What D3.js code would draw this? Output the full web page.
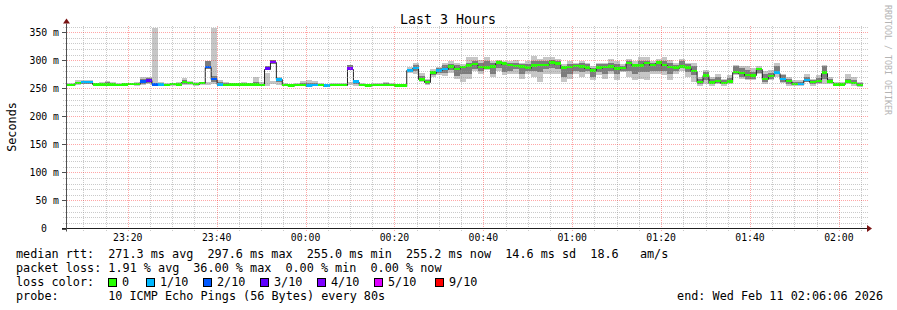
<!DOCTYPE html>
<html>
<head>
<meta charset="utf-8">
<script src="https://cdn.jsdelivr.net/npm/d3@7"></script>
<style>
  body { margin: 0; background: #fff; }
  text { font-family: "DejaVu Sans Mono", monospace; white-space: pre; }
</style>
</head>
<body>
<svg id="chart" width="897" height="310"></svg>
<script>
// one sample every 80s, first one starts 40s before the left edge
const firstSample = Date.UTC(2026, 1, 10, 23, 5, 26);
const stepSec = 80;
const viewStart = Date.UTC(2026, 1, 10, 23, 6, 6);
const viewEnd = Date.UTC(2026, 1, 11, 2, 6, 6);

const median = [
  256,256,259,261,261,257,257,257,257,256,
  257,258,258,262,264,257,257,256,258,257,
  261,259,258,259,288,267,257,256,257,257,
  257,257,257,256,285,297,266,256,255,256,
  256,255,256,256,255,256,256,256,285,262,
  256,255,256,256,256,256,255,255,282,286,
  266,261,278,282,284,289,284,288,291,293,
  288,287,289,296,294,292,290,289,287,291,
  292,292,296,294,287,288,290,289,287,282,
  287,288,289,285,286,295,291,291,295,292,
  296,292,288,287,289,287,281,261,273,260,
  263,259,262,279,277,274,273,284,267,272,
  278,267,263,258,258,265,261,263,278,262,
  257,257,262,259,256
];
// lost pings out of 10
const loss = [
  0,0,0,1,1,0,0,0,0,0,
  0,0,0,2,3,2,1,0,0,0,
  0,0,0,0,2,2,1,0,0,0,
  0,0,0,0,3,4,1,0,0,0,
  0,1,1,0,1,0,0,0,4,1,
  0,0,0,0,0,0,0,0,1,1,
  0,0,0,1,1,0,0,0,0,0,
  0,0,0,0,0,0,0,0,0,0,
  0,0,0,0,0,0,0,0,0,0,
  0,0,0,0,0,0,0,0,0,0,
  0,0,0,0,0,0,0,0,0,0,
  0,0,0,0,0,0,0,0,0,0,
  1,1,0,0,1,1,0,0,0,0,
  0,0,0,0,0
];
// outer (light) smoke band
const smokeLo = [
  254,254,256,257,257,255,255,255,255,254,
  255,256,255,256,258,255,255,254,255,255,
  256,256,255,256,256,257,255,254,255,255,
  255,255,255,254,254,258,256,254,253,254,
  254,253,254,254,253,254,254,254,256,255,
  254,253,254,254,254,254,253,253,278,276,
  262,256,270,274,272,278,266,262,267,281,
  276,282,270,281,273,276,276,267,276,270,
  261,276,276,276,261,267,276,270,276,264,
  273,267,276,264,279,270,264,267,264,276,
  276,273,264,276,281,270,261,255,258,255,
  258,255,257,273,267,264,265,276,258,264,
  270,259,255,255,255,261,255,258,258,257,
  254,254,257,255,253
];
const smokeHi = [
  259,260,264,265,264,260,262,263,261,259,
  260,260,261,270,271,357,261,259,260,262,
  268,263,261,262,261,357,264,262,260,260,
  261,260,271,262,278,263,270,259,258,259,
  263,264,263,259,258,259,259,259,262,265,
  259,258,260,259,261,260,258,258,288,296,
  277,266,284,288,296,298,296,294,305,305,
  300,305,299,300,299,299,300,296,299,308,
  302,305,305,302,293,298,296,299,296,290,
  296,296,302,299,293,302,299,306,305,299,
  302,305,300,296,303,296,295,270,283,270,
  276,267,273,292,290,289,287,289,280,282,
  295,276,270,264,264,276,267,273,292,270,
  262,262,276,270,261
];
// inner (dark) smoke band
const coreLo = [
  255,255,257,258,258,256,256,256,256,255,
  256,257,256,258,260,256,256,255,256,256,
  258,257,256,257,284,262,256,255,256,256,
  256,256,256,255,282,293,262,255,254,255,
  255,254,255,255,254,255,255,255,282,258,
  255,254,255,255,255,255,254,254,280,280,
  264,258,273,277,277,282,272,276,276,284,
  281,285,276,287,279,281,284,276,281,281,
  279,284,287,284,270,276,281,279,281,270,
  279,276,281,276,281,281,276,279,279,281,
  281,281,276,281,286,279,273,258,264,258,
  259,257,259,276,271,267,267,277,261,267,
  276,262,258,256,256,262,257,260,267,259,
  255,255,259,257,254
];
const coreHi = [
  258,258,262,263,263,259,260,261,259,258,
  259,259,260,266,268,259,259,258,259,260,
  265,261,260,261,298,272,261,259,259,259,
  259,259,262,258,290,301,268,258,257,258,
  259,260,259,258,257,258,258,258,292,264,
  258,257,258,258,259,258,257,257,285,292,
  272,264,281,286,292,294,291,290,296,299,
  295,299,295,298,296,296,295,293,293,299,
  298,299,300,299,290,293,293,295,293,287,
  293,293,296,293,290,299,293,299,299,295,
  298,298,295,292,298,293,290,267,279,267,
  270,264,268,289,286,282,279,286,276,277,
  290,273,267,262,262,271,264,268,290,267,
  260,260,267,264,259
];

const lossSteps = [0, 1, 2, 3, 4, 5, 9];
const lossLabels = ["0", "1/10", "2/10", "3/10", "4/10", "5/10", "9/10"];
const lossColors = ["#26ff00", "#00b8ff", "#0059ff", "#5e00ff", "#7e00ff", "#dd00ff", "#ff0000"];

const yMajorTicks = [0, 50, 100, 150, 200, 250, 300, 350];

const statsLine = "median rtt:  271.3 ms avg  297.6 ms max  255.0 ms min  255.2 ms now  14.6 ms sd  18.6   am/s";
const lossLine = "packet loss: 1.91 % avg  36.00 % max  0.00 % min  0.00 % now";
const probeLine = "probe:       10 ICMP Echo Pings (56 Bytes) every 80s";
const endLine = "end: Wed Feb 11 02:06:06 2026";

const plotL = 66, plotR = 866, plotT = 25.5, plotB = 228.5;

const svg = d3.select("#chart");

const x = d3.scaleUtc().domain([viewStart, viewEnd]).range([plotL, plotR]);
const y = d3.scaleLinear().domain([0, 362]).range([plotB, plotT]);

const samples = median.map((m, i) => ({
  t0: new Date(firstSample + i * stepSec * 1000),
  t1: new Date(firstSample + (i + 1) * stepSec * 1000),
  m,
  loss: loss[i],
  sLo: smokeLo[i], sHi: smokeHi[i],
  cLo: coreLo[i], cHi: coreHi[i]
}));

svg.append("clipPath").attr("id", "canvas")
  .append("rect").attr("x", plotL).attr("y", plotT).attr("width", plotR - plotL).attr("height", plotB - plotT);

const g = svg.append("g").attr("clip-path", "url(#canvas)");

// smoke
g.selectAll("rect.smoke").data(samples).join("rect")
  .attr("class", "smoke")
  .attr("x", d => x(d.t0)).attr("width", d => x(d.t1) - x(d.t0))
  .attr("y", d => y(d.sHi)).attr("height", d => y(d.sLo) - y(d.sHi))
  .attr("fill", "#c6c6c6").attr("shape-rendering", "crispEdges");

g.selectAll("rect.core").data(samples).join("rect")
  .attr("class", "core")
  .attr("x", d => x(d.t0)).attr("width", d => x(d.t1) - x(d.t0))
  .attr("y", d => y(d.cHi)).attr("height", d => y(d.cLo) - y(d.cHi))
  .attr("fill", "#7c7c7c").attr("shape-rendering", "crispEdges");

// median line
const linePts = samples.map(d => [d.t0, d.m]);
linePts.push([samples[samples.length - 1].t1, samples[samples.length - 1].m]);
g.append("path")
  .attr("d", d3.line().x(d => x(d[0])).y(d => Math.round(y(d[1])) + 0.5).curve(d3.curveStepAfter)(linePts))
  .attr("fill", "none").attr("stroke", "#202020").attr("stroke-width", 1);

// loss coloured median bars
g.selectAll("rect.med").data(samples).join("rect")
  .attr("class", "med")
  .attr("x", d => x(d.t0)).attr("width", d => x(d.t1) - x(d.t0))
  .attr("y", d => y(d.m + 2.2)).attr("height", d => y(d.m - 2.2) - y(d.m + 2.2))
  .attr("fill", d => lossColors[lossSteps.indexOf(d.loss)])
  .attr("shape-rendering", "crispEdges");

// grid on top, as rrdtool does
const grid = svg.append("g").attr("shape-rendering", "crispEdges");
const minorY = d3.range(0, 361, 10).filter(v => v % 50 !== 0);
grid.selectAll("line.hmin").data(minorY).join("line")
  .attr("x1", plotL - 3).attr("x2", plotR + 3)
  .attr("y1", d => Math.round(y(d)) + 0.5).attr("y2", d => Math.round(y(d)) + 0.5)
  .attr("stroke", "rgba(150,150,150,0.5)").attr("stroke-dasharray", "1,1");
const timeMinor = x.ticks(d3.utcMinute.every(5)).filter(t => t.getUTCMinutes() % 20 !== 0);
grid.selectAll("line.vmin").data(timeMinor).join("line")
  .attr("x1", d => Math.round(x(d)) + 0.5).attr("x2", d => Math.round(x(d)) + 0.5)
  .attr("y1", plotT).attr("y2", plotB + 3)
  .attr("stroke", "rgba(150,150,150,0.5)").attr("stroke-dasharray", "1,1");
grid.selectAll("line.hmaj").data(yMajorTicks.filter(v => v > 0)).join("line")
  .attr("x1", plotL - 3).attr("x2", plotR + 3)
  .attr("y1", d => Math.round(y(d)) + 0.5).attr("y2", d => Math.round(y(d)) + 0.5)
  .attr("stroke", "rgba(255,0,0,0.35)").attr("stroke-dasharray", "1,1");
const timeMajor = x.ticks(d3.utcMinute.every(20));
grid.selectAll("line.vmaj").data(timeMajor).join("line")
  .attr("x1", d => Math.round(x(d)) + 0.5).attr("x2", d => Math.round(x(d)) + 0.5)
  .attr("y1", plotT).attr("y2", plotB + 3)
  .attr("stroke", "rgba(255,0,0,0.35)").attr("stroke-dasharray", "1,1");

// axes
svg.append("line").attr("x1", plotL - 4).attr("x2", plotR + 2)
  .attr("y1", plotB).attr("y2", plotB).attr("stroke", "#202020");
svg.append("line").attr("x1", plotL + 0.5).attr("x2", plotL + 0.5)
  .attr("y1", plotB + 3).attr("y2", plotT - 2).attr("stroke", "#505050");
svg.append("path").attr("d", `M${plotR + 1},${plotB - 3.5}L${plotR + 6},${plotB}L${plotR + 1},${plotB + 3.5}Z`)
  .attr("fill", "#7a1414");
svg.append("path").attr("d", `M${plotL - 3},${plotT - 2}L${plotL + 0.5},${plotT - 7}L${plotL + 4},${plotT - 2}Z`)
  .attr("fill", "#7a1414");

const axisFont = 9.8;
svg.selectAll("text.ylab").data(yMajorTicks).join("text")
  .attr("class", "ylab")
  .attr("x", d => d === 0 ? 47 : 59)
  .attr("y", d => y(d) + 3.6)
  .attr("text-anchor", "end")
  .attr("font-size", axisFont)
  .text(d => d === 0 ? "0" : d + " m");
svg.selectAll("line.ytick").data(yMajorTicks).join("line")
  .attr("x1", plotL - 4).attr("x2", plotL)
  .attr("y1", d => Math.round(y(d)) + 0.5).attr("y2", d => Math.round(y(d)) + 0.5)
  .attr("stroke", "#505050");

svg.selectAll("text.xlab").data(timeMajor).join("text")
  .attr("class", "xlab")
  .attr("x", d => x(d))
  .attr("y", 241)
  .attr("text-anchor", "middle")
  .attr("font-size", axisFont)
  .text(d3.utcFormat("%H:%M"));

// titles
svg.append("text").attr("x", 448).attr("y", 24).attr("text-anchor", "middle")
  .attr("font-size", 13.3).text("Last 3 Hours");
svg.append("text").attr("transform", "translate(15.5,127) rotate(-90)")
  .attr("text-anchor", "middle").attr("font-size", 11.8).text("Seconds");
svg.append("text").attr("transform", "translate(885,5) rotate(90)")
  .attr("font-size", 9).attr("fill", "#b4b4b4")
  .attr("textLength", 110).attr("lengthAdjust", "spacingAndGlyphs")
  .text("RRDTOOL / TOBI OETIKER");

// legend
const charW = 7.09;
const legFont = 11.8;
const legend = svg.append("g").attr("font-size", legFont);
function putText(str, col, baseline) {
  // place each word run on the monospace grid
  const re = /\S+(?: \S+)*/g;
  let m;
  while ((m = re.exec(str)) !== null) {
    legend.append("text").attr("x", 16 + (col + m.index) * charW).attr("y", baseline).text(m[0]);
  }
}
putText(statsLine, 0, 258);
putText(lossLine, 0, 272);
putText("loss color:", 0, 286);
putText(probeLine, 0, 300);
legend.append("text").attr("x", 883).attr("y", 300).attr("text-anchor", "end").text(endLine);

const boxX = [108, 146, 203, 260, 317, 374, 435];
const items = legend.selectAll("g.item").data(lossLabels).join("g").attr("class", "item");
items.append("rect")
  .attr("x", (d, i) => boxX[i] + 0.5).attr("y", 278.5).attr("width", 8).attr("height", 8)
  .attr("fill", (d, i) => lossColors[i]).attr("stroke", "#000");
items.append("text")
  .attr("x", (d, i) => boxX[i] + 14).attr("y", 286)
  .text(d => d);
</script>
</body>
</html>
